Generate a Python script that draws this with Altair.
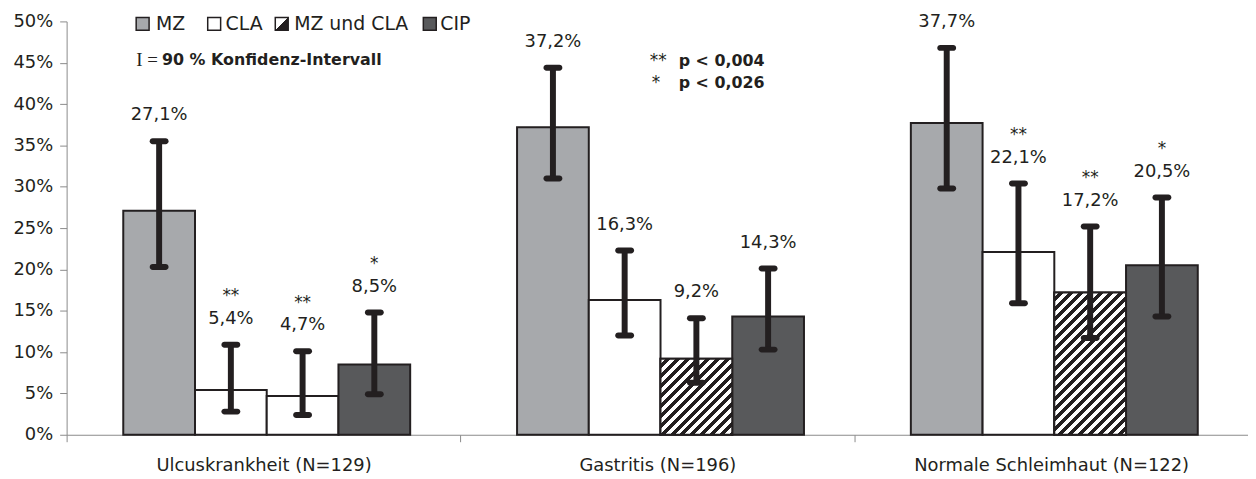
import altair as alt
import pandas as pd

# ---------------- data ----------------
categories = ["Ulcuskrankheit (N=129)", "Gastritis (N=196)", "Normale Schleimhaut (N=122)"]
series = ["MZ", "CLA", "MZ und CLA", "CIP"]

mz_val = [27.1, 37.2, 37.7]
cla_val = [5.4, 16.3, 22.1]
mzcla_val = [4.7, 9.2, 17.2]
cip_val = [8.5, 14.3, 20.5]

mz_lo = [20.3, 31.0, 29.8]
mz_hi = [35.5, 44.4, 46.8]
cla_lo = [2.8, 12.0, 15.9]
cla_hi = [10.9, 22.3, 30.4]
mzcla_lo = [2.4, 6.3, 11.7]
mzcla_hi = [10.1, 14.1, 25.2]
cip_lo = [4.9, 10.3, 14.3]
cip_hi = [14.8, 20.1, 28.7]

mz_stars = ["", "", ""]
cla_stars = ["**", "", "**"]
mzcla_stars = ["**", "", "**"]
cip_stars = ["*", "", "*"]

hatched_groups = ["Gastritis (N=196)", "Normale Schleimhaut (N=122)"]

y_ticks = [0, 5, 10, 15, 20, 25, 30, 35, 40, 45, 50]

# ---------------- styling ----------------
INK = "#231f20"
AXC = "#8a8a8a"
FONT = "DejaVu Sans"
colors = ["#a7a9ac", "#ffffff", "#ffffff", "#58595b"]

W, H = 1189, 416
Y_MAX = 50
OUTER = 0.745
BAR_W = (W / len(categories)) / (len(series) + 2 * OUTER)

vals = [mz_val, cla_val, mzcla_val, cip_val]
los = [mz_lo, cla_lo, mzcla_lo, cip_lo]
his = [mz_hi, cla_hi, mzcla_hi, cip_hi]
stars = [mz_stars, cla_stars, mzcla_stars, cip_stars]

rows = []
for si, s in enumerate(series):
    for ci, c in enumerate(categories):
        v = vals[si][ci]
        rows.append(dict(cat=c, series=s, value=v, lo=los[si][ci], hi=his[si][ci],
                         stars=stars[si][ci],
                         label=f"{v:.1f}".replace(".", ",") + "%"))
df = pd.DataFrame(rows)

x_enc = alt.X("cat:N", sort=categories,
              scale=alt.Scale(domain=categories, paddingInner=0, paddingOuter=0),
              axis=alt.Axis(title=None, labelAngle=0, labelFontSize=18, labelFont=FONT,
                            labelColor=INK, tickBand="extent", tickSize=7, tickColor=AXC,
                            domainColor=AXC, labelPadding=15, grid=False, labelLimit=0))
xo_enc = alt.XOffset("series:N", sort=series,
                     scale=alt.Scale(domain=series, paddingInner=0, paddingOuter=OUTER,
                                     align=0.53))
y_scale = alt.Scale(domain=[0, Y_MAX], nice=False, zero=True)
y_axis = alt.Axis(title=None, values=y_ticks, labelExpr="datum.value + '%'",
                  labelFontSize=18, labelFont=FONT, labelColor=INK, tickSize=7,
                  tickColor=AXC, domainColor=AXC, labelPadding=7, grid=False)


def Y(field):
    return alt.Y(field, scale=y_scale, axis=y_axis, title=None)


base = alt.Chart(df)

bars = base.mark_bar(stroke=INK, strokeWidth=2).encode(
    x=x_enc, xOffset=xo_enc, y=Y("value:Q"),
    fill=alt.Fill("series:N", scale=alt.Scale(domain=series, range=colors), legend=None),
)


def hatch_gradient(v):
    w = BAR_W
    h = v * H / Y_MAX
    s = (w + h) / (w * w + h * h)
    L = (w + h) / 2 ** 0.5
    period = 7.1
    dt = period / L
    stops = []
    t = 0.0
    while t < 1.0:
        a = min(t, 1.0)
        b = min(t + dt * 0.5, 1.0)
        c = min(t + dt, 1.0)
        stops += [alt.GradientStop(color="#ffffff", offset=a),
                  alt.GradientStop(color="#ffffff", offset=b),
                  alt.GradientStop(color=INK, offset=b),
                  alt.GradientStop(color=INK, offset=c)]
        t += dt
    return alt.LinearGradient(gradient="linear", stops=stops,
                              x1=0, y1=0, x2=s * w, y2=s * h)


hatch_layers = []
for c in hatched_groups:
    v = float(df[(df.cat == c) & (df.series == "MZ und CLA")].value.iloc[0])
    hatch_layers.append(
        base.transform_filter((alt.datum.cat == c) & (alt.datum.series == "MZ und CLA"))
        .mark_bar(fill=hatch_gradient(v), stroke=INK, strokeWidth=2)
        .encode(x=x_enc, xOffset=xo_enc, y=Y("value:Q"))
    )

err = base.mark_rule(strokeWidth=6, color=INK).encode(
    x=x_enc, xOffset=xo_enc, y=Y("lo:Q"), y2="hi:Q")
cap_lo = base.mark_tick(thickness=6, size=19, color=INK, opacity=1, cornerRadius=3).encode(
    x=x_enc, xOffset=xo_enc, y=Y("lo:Q"))
cap_hi = base.mark_tick(thickness=6, size=19, color=INK, opacity=1, cornerRadius=3).encode(
    x=x_enc, xOffset=xo_enc, y=Y("hi:Q"))

labels = base.mark_text(dy=-21, baseline="alphabetic", fontSize=18, font=FONT, color=INK).encode(
    x=x_enc, xOffset=xo_enc, y=Y("hi:Q"), text="label:N")
star_txt = base.mark_text(dy=-44, baseline="alphabetic", fontSize=17, font=FONT, color=INK).encode(
    x=x_enc, xOffset=xo_enc, y=Y("hi:Q"), text="stars:N")

# ---------------- legend (manual) ----------------
one = pd.DataFrame({"k": [0]})
leg_sym_x = [70, 142, 210, 359]
leg_txt_x = [90, 160, 229, 376]
legend_layers = []
for i, s in enumerate(series):
    if s == "MZ und CLA":
        fill = alt.LinearGradient(gradient="linear", x1=0, y1=0, x2=1, y2=1,
                                  stops=[alt.GradientStop(color="#ffffff", offset=0),
                                         alt.GradientStop(color="#ffffff", offset=0.5),
                                         alt.GradientStop(color=INK, offset=0.5),
                                         alt.GradientStop(color=INK, offset=1)])
    else:
        fill = colors[i]
    legend_layers.append(
        alt.Chart(one).mark_rect(fill=fill, stroke=INK, strokeWidth=1.5).encode(
            x=alt.value(leg_sym_x[i]), x2=alt.value(leg_sym_x[i] + 13),
            y=alt.value(-4), y2=alt.value(9)))
    legend_layers.append(
        alt.Chart(one).mark_text(text=s, align="left", baseline="middle", fontSize=19,
                                 font=FONT, color=INK).encode(
            x=alt.value(leg_txt_x[i]), y=alt.value(3)))

ci_I = alt.Chart(one).mark_text(text="I =", align="left", baseline="middle", fontSize=19,
                                font="Liberation Serif", color=INK).encode(
    x=alt.value(70), y=alt.value(39))
ci_txt = alt.Chart(one).mark_text(text="90 % Konfidenz-Intervall", align="left", baseline="middle",
                                  fontSize=16, font=FONT, fontWeight="bold", color=INK).encode(
    x=alt.value(96), y=alt.value(39))

p1s = alt.Chart(one).mark_text(text="**", align="left", baseline="middle", fontSize=17,
                               font=FONT, color=INK).encode(x=alt.value(587), y=alt.value(40))
p1 = alt.Chart(one).mark_text(text="p < 0,004", align="left", baseline="middle", fontSize=16,
                              font=FONT, fontWeight="bold", color=INK).encode(x=alt.value(616), y=alt.value(40))
p2s = alt.Chart(one).mark_text(text="*", align="left", baseline="middle", fontSize=17,
                               font=FONT, color=INK).encode(x=alt.value(589), y=alt.value(62))
p2 = alt.Chart(one).mark_text(text="p < 0,026", align="left", baseline="middle", fontSize=16,
                              font=FONT, fontWeight="bold", color=INK).encode(x=alt.value(616), y=alt.value(62))

chart = alt.layer(
    bars, *hatch_layers, err, cap_lo, cap_hi, labels, star_txt,
    *legend_layers, ci_I, ci_txt, p1s, p1, p2s, p2
).properties(
    width=W, height=H,
    autosize=alt.AutoSizeParams(type="none"),
    padding={"left": 59, "top": 12, "right": 0, "bottom": 40},
).configure_view(stroke=None)

chart.save("out.html", embed_options={"renderer": "svg", "actions": False})
